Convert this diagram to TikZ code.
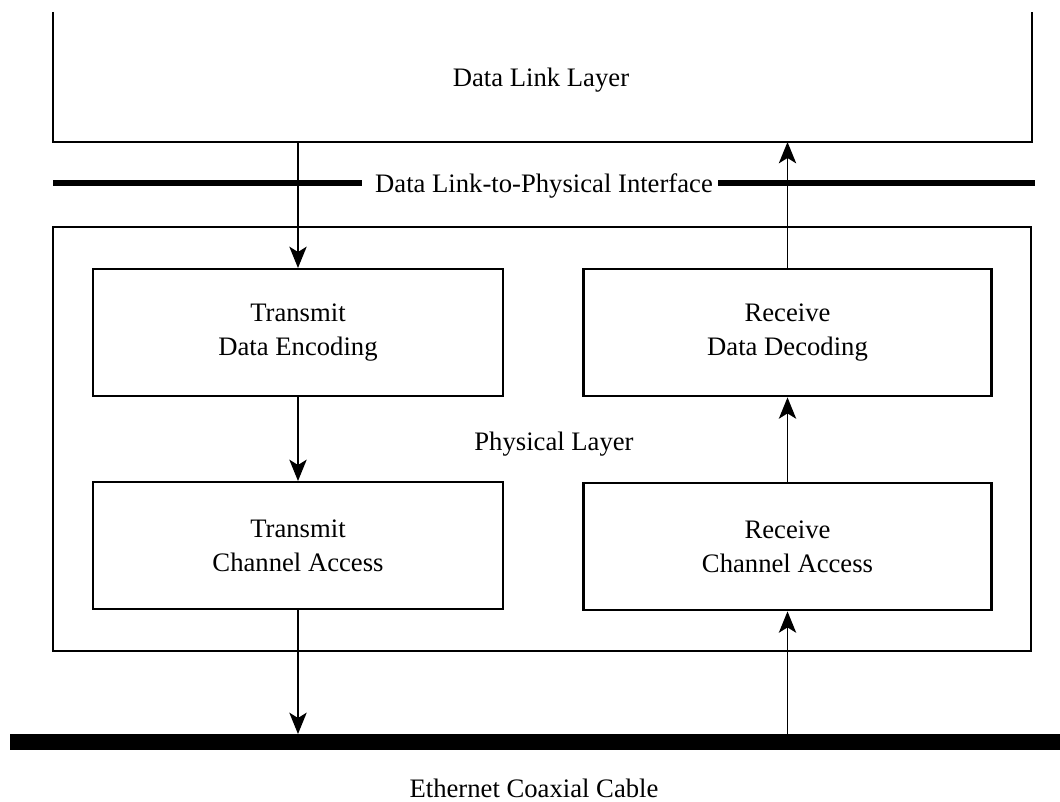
\documentclass[tikz,border=0pt]{standalone}
\usepackage{fontspec}
\setmainfont{Liberation Serif}
\usetikzlibrary{arrows.meta}
\begin{document}
\begin{tikzpicture}[x=0.75pt,y=-0.75pt,
  txt/.style={font=\fontsize{20}{25}\selectfont},
  box/.style={draw, line width=1.8pt, inner sep=0pt, align=center, txt,
              minimum width=410*0.75pt, minimum height=127*0.75pt},
  lbl/.style={anchor=base, inner sep=0pt, txt},
  arr/.style={line width=1.2pt, -{Stealth[length=16pt,width=13pt,inset=4pt]}},
  layer/.style={line width=1.8pt, line join=miter},
  iface/.style={line width=4pt}]
\useasboundingbox (0,0) rectangle (1060,802);

% Data link layer (open top)
\draw[layer] (53,12) -- (53,142) -- (1032,142) -- (1032,12);
\node[lbl] (dll) at (541,87) {Data Link Layer};
\coordinate (dllTx) at (298,142);
\coordinate (dllRx) at (787.5,142);

% Interface line
\node[lbl] (iflbl) at (544,193) {Data Link-to-Physical Interface};
\coordinate (ifL1) at (53,183);
\coordinate (ifL2) at (362,183);
\coordinate (ifR1) at (718,183);
\coordinate (ifR2) at (1035,183);
\draw[iface] (ifL1) -- (ifL2);
\draw[iface] (ifR1) -- (ifR2);

% Physical layer
\node[draw, line width=1.8pt, inner sep=0pt, anchor=north west,
      minimum width=978*0.75pt, minimum height=424*0.75pt] (phys) at (52,226) {};
\node[lbl] (physlbl) at (554,450) {Physical Layer};

\node[box, anchor=north] (tde) at (298,268) {Transmit\\Data Encoding};
\node[box, anchor=north, minimum width=408*0.75pt] (rdd) at (787.5,268) {Receive\\Data Decoding};
\node[box, anchor=north] (tca) at (298,481) {Transmit\\Channel Access};
\node[box, anchor=north, minimum width=408*0.75pt] (rca) at (787.5,482) {Receive\\Channel Access};

% Cable
\node[fill=black, inner sep=0pt, anchor=north west,
      minimum width=1050*0.75pt, minimum height=16*0.75pt] (cable) at (10,734) {};
\node[lbl] (cablelbl) at (534,797) {Ethernet Coaxial Cable};

% Arrows
\draw[arr] (dllTx) -- (tde.north);
\draw[arr] (tde.south) -- (tca.north);
\draw[arr] (tca.south) -- (tca.south |- cable.north);
\draw[arr] (rca.south |- cable.north) -- (rca.south);
\draw[arr] (rca.north) -- (rdd.south);
\draw[arr] (rdd.north) -- (dllRx);
\end{tikzpicture}
\end{document}
